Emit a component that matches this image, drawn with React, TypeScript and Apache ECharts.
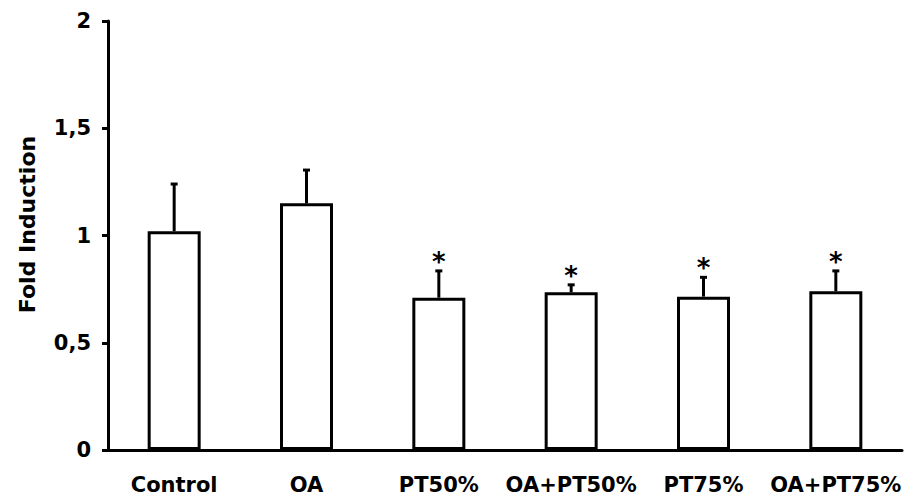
import React, { useEffect, useRef } from "react";
import * as echarts from "echarts";

const categories = ["Control", "OA", "PT50%", "OA+PT50%", "PT75%", "OA+PT75%"];
const means = [1.02, 1.15, 0.71, 0.735, 0.715, 0.74];
const errorTops = [1.24, 1.305, 0.835, 0.77, 0.805, 0.835];
const significant = [false, false, true, true, true, true];
const yTicks = { min: 0, max: 2, interval: 0.5 };

const FONT = "DejaVu Sans";

export default function App() {
  const ref = useRef<HTMLDivElement>(null);
  useEffect(() => {
    if (!ref.current) return;
    const chart = echarts.init(ref.current, undefined, { renderer: "svg" });
    const errData = categories.map((_, i) => [i, means[i], errorTops[i], significant[i] ? 1 : 0]);
    chart.setOption({
      animation: false,
      backgroundColor: "#ffffff",
      grid: { left: 108, right: 4, top: 21, bottom: 53, containLabel: false },
      xAxis: {
        type: "category",
        data: categories,
        axisLine: { lineStyle: { color: "#000", width: 3 } },
        axisTick: { show: false },
        axisLabel: {
          margin: 24,
          color: "#000",
          fontFamily: FONT,
          fontWeight: "bold",
          fontSize: 21,
          interval: 0,
        },
      },
      yAxis: {
        type: "value",
        min: yTicks.min,
        max: yTicks.max,
        interval: yTicks.interval,
        name: "Fold Induction",
        nameLocation: "middle",
        nameGap: 70,
        nameTextStyle: {
          color: "#000",
          fontFamily: FONT,
          fontWeight: "bold",
          fontSize: 22,
          padding: [0, 0, 0, 22],
        },
        axisLine: { show: true, lineStyle: { color: "#000", width: 3 } },
        axisTick: { show: true, length: 6, lineStyle: { color: "#000", width: 3 } },
        splitLine: { show: false },
        axisLabel: {
          margin: 17,
          color: "#000",
          fontFamily: FONT,
          fontWeight: "bold",
          fontSize: 21,
          formatter: (v: number) => String(v).replace(".", ","),
        },
      },
      series: [
        {
          type: "bar",
          data: means,
          barWidth: 53,
          itemStyle: { color: "#fff", borderColor: "#000", borderWidth: 3 },
          z: 2,
        },
        {
          type: "custom",
          data: errData,
          encode: { x: 0, y: [1, 2] },
          z: 3,
          renderItem: (params: any, api: any) => {
            const i = api.value(0);
            const lo = api.coord([i, api.value(1)]);
            const hi = api.coord([i, api.value(2)]);
            const star = api.value(3);
            const children: any[] = [
              {
                type: "line",
                shape: { x1: lo[0], y1: lo[1], x2: hi[0], y2: hi[1] },
                style: { stroke: "#000", lineWidth: 3 },
              },
              {
                type: "line",
                shape: { x1: hi[0] - 3.5, y1: hi[1], x2: hi[0] + 3.5, y2: hi[1] },
                style: { stroke: "#000", lineWidth: 3 },
              },
            ];
            if (star) {
              children.push({
                type: "text",
                x: hi[0],
                y: hi[1] + 4,
                style: {
                  text: "*",
                  fill: "#000",
                  font: `bold 26px "${FONT}"`,
                  textAlign: "center",
                  textVerticalAlign: "bottom",
                },
              });
            }
            return { type: "group", children };
          },
        },
      ],
    });
    return () => chart.dispose();
  }, []);
  return <div ref={ref} style={{ width: 906, height: 503, position: "absolute", left: 0, top: 0 }} />;
}
